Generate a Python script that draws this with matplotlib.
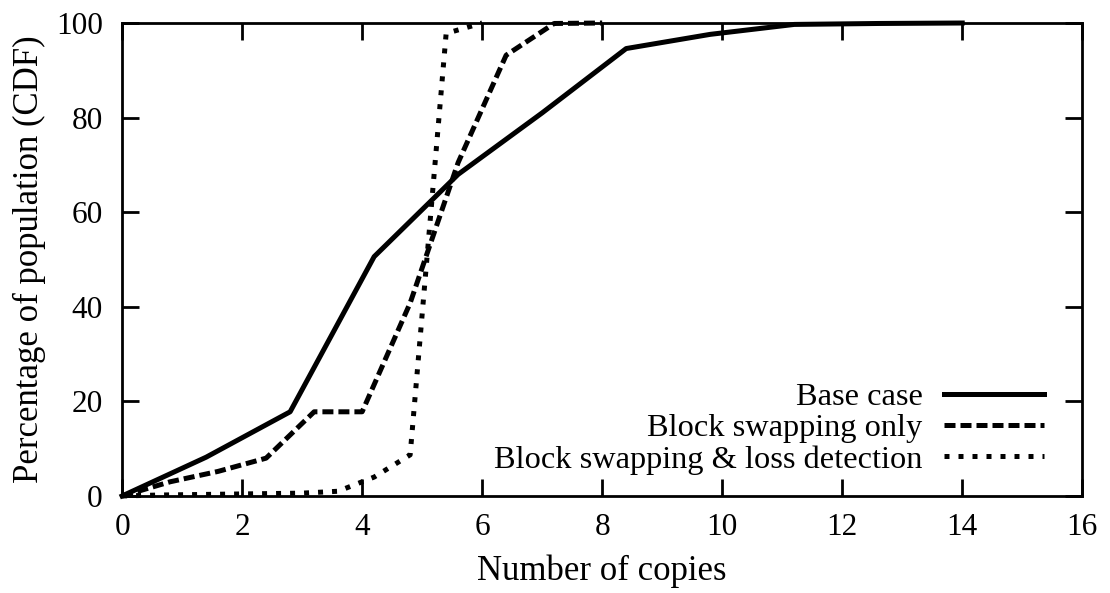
import numpy as np
import matplotlib
matplotlib.use("Agg")
import matplotlib.pyplot as plt

plt.rcParams['font.family'] = ['Liberation Serif', 'DejaVu Serif']

# datos
base_x = [0, 1.4, 2.8, 4.2, 5.6, 7.0, 8.4, 9.8, 11.2, 12.6, 14.0]
base_y = [0, 8.2, 17.8, 50.6, 68.0, 81.0, 94.6, 97.6, 99.7, 99.9, 100]

swap_x = [0, 0.8, 1.6, 2.4, 3.2, 4.0, 4.8, 5.6, 6.4, 7.2, 8.0]
swap_y = [0, 3.0, 5.2, 8.0, 17.8, 17.8, 40.8, 70.5, 93.2, 99.9, 100]

loss_x = [0, 0.6, 1.2, 1.8, 2.4, 3.0, 3.6, 4.2, 4.8, 5.4, 6.0]
loss_y = [0, 0.2, 0.3, 0.4, 0.5, 0.6, 1.0, 4.0, 8.7, 97.8, 100]

labels = ["Base case", "Block swapping only", "Block swapping & loss detection"]

fig = plt.figure(figsize=(11.1, 5.93), dpi=100)
ax = fig.add_axes([0.110, 0.1636, 0.865, 0.7976])

lw = 3.6
ax.plot(base_x, base_y, color='black', lw=lw, label=labels[0], clip_on=False)
ax.plot(swap_x, swap_y, color='black', lw=lw, dashes=(2.2, 1.0), label=labels[1], clip_on=False)
ax.plot(loss_x, loss_y, color='black', lw=lw, dashes=(1.0, 1.8), label=labels[2], clip_on=False)

ax.set_xlim(0, 16)
ax.set_ylim(0, 100)
ax.set_xticks(np.arange(0, 17, 2))
ax.set_yticks(np.arange(0, 101, 20))

for s in ax.spines.values():
    s.set_linewidth(2.0)
ax.tick_params(direction='in', length=12, width=2.0, top=True, right=True,
               labelsize=22.5)
ax.tick_params(axis='x', pad=12)
ax.tick_params(axis='y', pad=14)

ax.set_xlabel("Number of copies", fontsize=25, va='center')
ax.set_ylabel("Percentage of population (CDF)", fontsize=25, va='center')
ax.xaxis.set_label_coords(0.5, -0.16)
ax.yaxis.set_label_coords(-0.096, 0.5)

ax.legend(loc='lower right', bbox_to_anchor=(0.96, 0.045), frameon=False,
          markerfirst=False, fontsize=23.3, handlelength=3.1,
          handletextpad=0.65, labelspacing=0.05, borderpad=0,
          borderaxespad=0)

fig.savefig("out.png", dpi=100)
